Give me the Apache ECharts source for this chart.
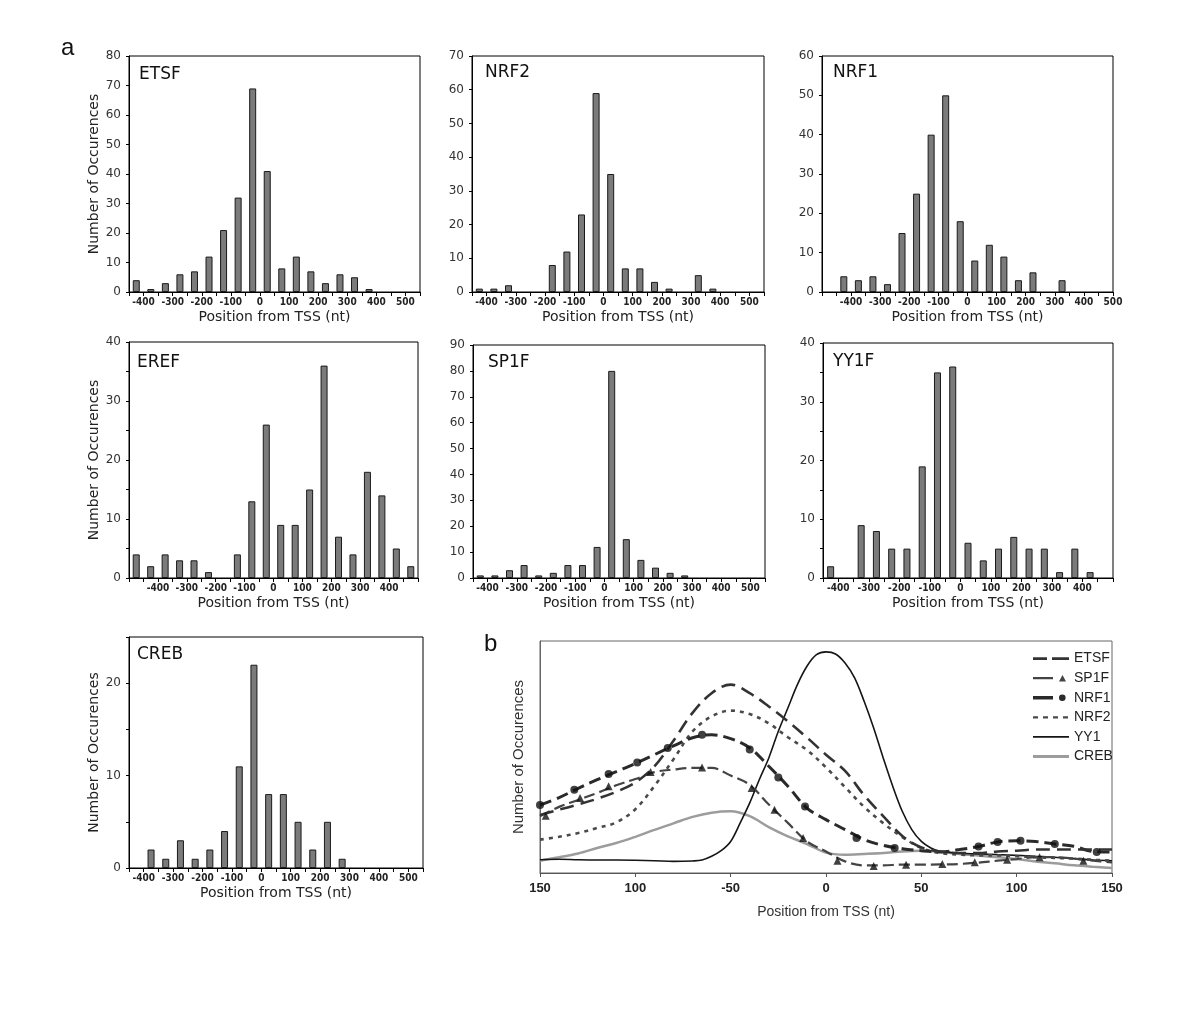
<!DOCTYPE html>
<html><head><meta charset="utf-8">
<script src="https://cdn.jsdelivr.net/npm/echarts@6/dist/echarts.min.js"></script>
<style>html,body{margin:0;padding:0;background:#fff}#c{width:1200px;height:1028px}</style>
</head><body><div id="c"></div>
<script>
// ===== Panel a : histogram data (bin centre in nt, count) =====
const etsfBins   = [-425,-375,-325,-275,-225,-175,-125,-75,-25,25,75,125,175,225,275,325,375];
const etsfCounts = [4,1,3,6,7,12,21,32,69,41,8,12,7,3,6,5,1];
const etsfTicks  = [-400,-300,-200,-100,0,100,200,300,400,500];

const nrf2Bins   = [-425,-375,-325,-275,-225,-175,-125,-75,-25,25,75,125,175,225,275,325,375];
const nrf2Counts = [1,1,2,0,0,8,12,23,59,35,7,7,3,1,0,5,1];
const nrf2Ticks  = [-400,-300,-200,-100,0,100,200,300,400,500];

const nrf1Bins   = [-425,-375,-325,-275,-225,-175,-125,-75,-25,25,75,125,175,225,275,325];
const nrf1Counts = [4,3,4,2,15,25,40,50,18,8,12,9,3,5,0,3];
const nrf1Ticks  = [-400,-300,-200,-100,0,100,200,300,400,500];

const erefBins   = [-475,-425,-375,-325,-275,-225,-175,-125,-75,-25,25,75,125,175,225,275,325,375,425,475];
const erefCounts = [4,2,4,3,3,1,0,4,13,26,9,9,15,36,7,4,18,14,5,2];
const erefTicks  = [-400,-300,-200,-100,0,100,200,300,400];

const sp1fBins   = [-425,-375,-325,-275,-225,-175,-125,-75,-25,25,75,125,175,225,275];
const sp1fCounts = [1,1,3,5,1,2,5,5,12,80,15,7,4,2,1];
const sp1fTicks  = [-400,-300,-200,-100,0,100,200,300,400,500];

const yy1fBins   = [-425,-375,-325,-275,-225,-175,-125,-75,-25,25,75,125,175,225,275,325,375,425];
const yy1fCounts = [2,0,9,8,5,5,19,35,36,6,3,5,7,5,5,1,5,1];
const yy1fTicks  = [-400,-300,-200,-100,0,100,200,300,400];

const crebBins   = [-375,-325,-275,-225,-175,-125,-75,-25,25,75,125,175,225,275];
const crebCounts = [2,1,3,1,2,4,11,22,8,8,5,2,5,1];
const crebTicks  = [-400,-300,-200,-100,0,100,200,300,400,500];

// ===== Panel b : smoothed profiles (relative units 0-100) =====
const bPos = [-150,-140,-130,-120,-110,-100,-90,-80,-70,-60,-50,-40,-30,-20,-10,0,10,20,30,40,50,60,70,80,90,100,110,120,130,140,150];
const etsfCurve = [25,27.3,29.5,32,35,39,46,57,69,77.5,81.2,77.5,71.8,65.4,58.4,51,44,33.5,24.5,16,11,9.3,8.6,8.6,9.3,9.6,10.1,10.1,10.1,10.1,10.1];
const sp1fCurve = [24.5,28.5,31.5,34.5,37.8,40.5,43.5,44.6,45.3,45.3,42,38,29.5,21.6,13.6,9.3,5,3.3,3.3,3.6,3.6,3.7,3.9,4.5,5.3,6,6.8,6.8,6.2,5.3,4.6];
const nrf1Curve = [29.3,32.5,36.5,40.2,43.7,47.2,51,54.8,58.3,59.6,57.9,53.9,46,37.4,28,23,18.7,14.4,11.9,10.5,9.6,9.1,10.1,11.4,13.4,13.9,13.6,12.5,11.5,9.3,9.1];
const nrf2Curve = [14.4,15.6,17.2,19.4,21.8,27.5,37.5,49,61,67.5,70,68.5,64.5,58.5,53,45.5,37,28.5,21.5,15.5,10.8,8.6,7.9,7.6,7.6,7.2,6.8,6.5,6.2,5.7,5.3];
const crebCurve = [5.3,6.8,8.4,10.8,12.9,15.6,18.6,21.4,24.2,26,26.6,24.5,19.8,15.8,12.5,8.8,7.9,8.2,8.6,9.3,9.6,9.1,8.2,7.5,6.8,6,5,4.2,3.3,2.7,2.2];
const yy1Pos   = [-150,-140,-130,-120,-110,-100,-90,-80,-70,-65,-60,-55,-50,-45,-40,-35,-30,-25,-20,-15,-10,-5,0,5,10,15,20,25,30,35,40,45,50,55,60,65,70,80,90,100,110,120,130,140,150];
const yy1Curve = [5.7,5.9,5.7,5.6,5.6,5.5,5.3,5,5.2,5.6,7.2,9.6,13.6,21.6,30.2,40.2,49.6,61.1,71.1,81.2,89.1,94.1,95.3,94.4,90.5,84.1,74,62.5,49.6,37.4,26.6,18.7,13.6,10.8,9.3,8.9,8.5,8.2,7.9,7.6,7.2,6.8,6.2,5.6,5.3];
const nrf1MarkX = [-150,-132,-114,-99,-83,-65,-40,-25,-11,16,36,80,90,102,120,142];
const nrf1MarkY = [29.3,35.9,42.7,47.6,53.9,59.6,53.2,41.2,28.7,15.1,10.8,11.4,13.4,13.9,12.5,9.1];
const sp1fMarkX = [-147,-129,-114,-92,-65,-39,-27,-12,6,25,42,61,78,95,112,135];
const sp1fMarkY = [24.7,32.3,37.4,43.5,45.5,36.6,27.3,15.1,5.3,3.0,3.6,3.9,4.6,5.7,6.8,5.3];
const bTickValues = [-150,-100,-50,0,50,100,150];
const bTickLabels = ['150','100','-50','0','50','100','150'];
const legendNames = ['ETSF','SP1F','NRF1','NRF2','YY1','CREB'];

// ===== layout =====
const panels = [
  {t:'ETSF', bins:etsfBins, counts:etsfCounts, ticks:etsfTicks, xMin:-450, xMax:550, yMax:80, yStep:10, yLab:10, box:[129,56,291,236], yName:true, tp:[139,66]},
  {t:'NRF2', bins:nrf2Bins, counts:nrf2Counts, ticks:nrf2Ticks, xMin:-450, xMax:550, yMax:70, yStep:10, yLab:10, box:[472,56,292,236], yName:false, tp:[485,64]},
  {t:'NRF1', bins:nrf1Bins, counts:nrf1Counts, ticks:nrf1Ticks, xMin:-500, xMax:500, yMax:60, yStep:10, yLab:10, box:[822,56,291,236], yName:false, tp:[833,64]},
  {t:'EREF', bins:erefBins, counts:erefCounts, ticks:erefTicks, xMin:-500, xMax:500, yMax:40, yStep:5, yLab:10, box:[129,342,289,236], yName:true, tp:[137,354]},
  {t:'SP1F', bins:sp1fBins, counts:sp1fCounts, ticks:sp1fTicks, xMin:-450, xMax:550, yMax:90, yStep:10, yLab:10, box:[473,345,292,233], yName:false, tp:[488,354]},
  {t:'YY1F', bins:yy1fBins, counts:yy1fCounts, ticks:yy1fTicks, xMin:-450, xMax:500, yMax:40, yStep:5, yLab:10, box:[823,343,290,235], yName:false, tp:[833,353]},
  {t:'CREB', bins:crebBins, counts:crebCounts, ticks:crebTicks, xMin:-450, xMax:550, yMax:25, yStep:5, yLab:10, box:[129,637,294,231], yName:true, tp:[137,646]}
];

const FONT = "'Liberation Sans', Arial, sans-serif";
const grids = [], xAxes = [], yAxes = [], series = [], titles = [];
panels.forEach((p, i) => {
  grids.push({left:p.box[0], top:p.box[1], width:p.box[2], height:p.box[3], show:true, borderColor:'#000', borderWidth:1, backgroundColor:'transparent'});
  xAxes.push({type:'value', gridIndex:i, min:p.xMin, max:p.xMax, interval:50,
    axisLine:{onZero:false, lineStyle:{color:'#000', width:1}},
    axisTick:{show:true, length:4, lineStyle:{color:'#000'}},
    splitLine:{show:false},
    axisLabel:{margin:5, fontSize:10, fontWeight:'bold', color:'#222', fontFamily:"'DejaVu Sans Condensed','Liberation Sans Narrow','DejaVu Sans',sans-serif",
      showMinLabel:true, showMaxLabel:true,
      formatter: (v) => p.ticks.indexOf(Math.round(v)) >= 0 ? String(Math.round(v)) : ''},
    name:'Position from TSS (nt)', nameLocation:'middle', nameGap:18,
    nameTextStyle:{fontSize:14, color:'#222', fontFamily:"'DejaVu Sans',sans-serif"}});
  yAxes.push({type:'value', gridIndex:i, min:0, max:p.yMax, interval:p.yStep,
    axisLine:{show:true, onZero:false, lineStyle:{color:'#000', width:1}},
    axisTick:{show:true, length:3, lineStyle:{color:'#000'}},
    splitLine:{show:false},
    axisLabel:{margin:8, fontSize:12, color:'#333', fontFamily:"'DejaVu Sans',sans-serif",
      formatter: (v) => (Math.round(v) % p.yLab === 0) ? String(Math.round(v)) : ''},
    name: p.yName ? 'Number of Occurences' : '', nameLocation:'middle', nameGap:26,
    nameTextStyle:{fontSize:14, color:'#222', fontFamily:"'DejaVu Sans',sans-serif"}});
  series.push({type:'bar', name:p.t + ' counts', xAxisIndex:i, yAxisIndex:i, barWidth:7,
    itemStyle:{color:'#7b7b7b', borderColor:'#1a1a1a', borderWidth:1},
    data: p.bins.map((b, j) => [b, p.counts[j]]).filter(d => d[1] > 0)});
  titles.push({text:p.t, left:p.tp[0], top:p.tp[1], padding:0,
    textStyle:{fontSize:17, fontWeight:'normal', color:'#111', fontFamily:"'DejaVu Sans',sans-serif"}});
});

// panel b
const bi = panels.length;
grids.push({left:540, top:641, width:572, height:232, show:true, borderColor:'#666', borderWidth:1, backgroundColor:'transparent'});
xAxes.push({type:'value', gridIndex:bi, min:-150, max:150, interval:50,
  axisLine:{onZero:false, lineStyle:{color:'#555'}},
  axisTick:{show:true, length:4, lineStyle:{color:'#555'}},
  splitLine:{show:false},
  axisLabel:{margin:9, fontSize:13, fontWeight:'bold', color:'#222', fontFamily:FONT,
    formatter:(v) => { const k = bTickValues.indexOf(Math.round(v)); return k >= 0 ? bTickLabels[k] : ''; }},
  name:'Position from TSS (nt)', nameLocation:'middle', nameGap:32,
  nameTextStyle:{fontSize:14, color:'#333', fontFamily:FONT}});
yAxes.push({type:'value', gridIndex:bi, min:0, max:100,
  axisLine:{show:true, onZero:false, lineStyle:{color:'#666'}}, axisTick:{show:false}, axisLabel:{show:false}, splitLine:{show:false},
  name:'Number of Occurences', nameLocation:'middle', nameGap:14,
  nameTextStyle:{fontSize:15, color:'#333', fontFamily:FONT}});

const pairs = (xs, ys) => xs.map((x, j) => [x, ys[j]]);
const lineS = (name, xs, ys, color, width, type, z) => ({type:'line', name, xAxisIndex:bi, yAxisIndex:bi, smooth:0.35,
  symbol:'none', z, color, lineStyle:{color, width, type}, data:pairs(xs, ys)});
series.push(lineS('CREB', bPos, crebCurve, '#9c9c9c', 2.5, 'solid', 2));
series.push(lineS('YY1', yy1Pos, yy1Curve, '#151515', 1.6, 'solid', 3));
series.push(lineS('NRF2', bPos, nrf2Curve, '#4a4a4a', 2.6, [4,5], 3));
series.push(lineS('NRF1', bPos, nrf1Curve, '#2a2a2a', 3, [12,6], 3));
series.push(lineS('SP1F', bPos, sp1fCurve, '#444444', 2.2, [11,5], 3));
series.push(lineS('ETSF', bPos, etsfCurve, '#333333', 2.6, [14,7], 3));
series.push({type:'scatter', name:'NRF1', xAxisIndex:bi, yAxisIndex:bi, symbol:'circle', symbolSize:8, z:4,
  itemStyle:{color:'#111'}, data:pairs(nrf1MarkX, nrf1MarkY)});
series.push({type:'scatter', name:'SP1F', xAxisIndex:bi, yAxisIndex:bi, symbol:'triangle', symbolSize:8, z:4,
  itemStyle:{color:'#111'}, data:pairs(sp1fMarkX, sp1fMarkY)});

const B = 'M0,0 M36,10 ';
const icons = {
  ETSF: B + 'M0,3.8h14v2.6h-14z M19,3.8h17v2.6h-17z',
  SP1F: B + 'M0,3.9h20v2.2h-20z M26,8.5L29.5,2L33,8.5z',
  NRF1: B + 'M0,3.2h20v3.6h-20z M26,5a3.3,3.3 0 1,0 6.6,0a3.3,3.3 0 1,0 -6.6,0z',
  NRF2: B + 'M0,4h5v2.2h-5z M10,4h5v2.2h-5z M20,4h5v2.2h-5z M30,4h5v2.2h-5z',
  YY1: B + 'M0,4.2h36v1.6h-36z',
  CREB: B + 'M0,3.6h36v2.8h-36z'
};
const legendData = legendNames.map(n => ({name:n, icon:'path://' + icons[n]}));

const option = {
  animation:false,
  backgroundColor:'#fff',
  title: titles.concat([
    {text:'a', left:61, top:36, padding:0, textStyle:{fontSize:24, fontWeight:'normal', color:'#111', fontFamily:FONT}},
    {text:'b', left:484, top:632, padding:0, textStyle:{fontSize:24, fontWeight:'normal', color:'#111', fontFamily:FONT}}
  ]),
  legend:{data:legendData, orient:'vertical', left:1033, top:651, itemWidth:36, itemHeight:10, itemGap:4.6,
    padding:0, selectedMode:false, itemStyle:{borderWidth:0},
    textStyle:{fontSize:14, color:'#222', fontFamily:FONT, lineHeight:15}},
  grid:grids, xAxis:xAxes, yAxis:yAxes, series
};
const chart = echarts.init(document.getElementById('c'), null, {renderer:'canvas'});
chart.setOption(option);
</script></body></html>
